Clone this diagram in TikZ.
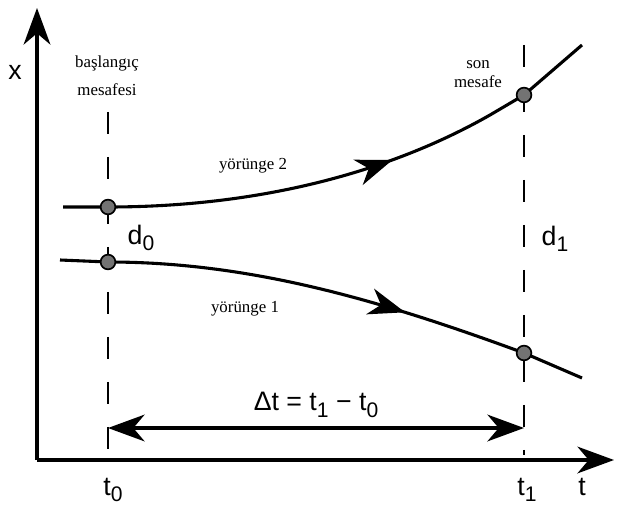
\documentclass[tikz,border=0pt]{standalone}
\usepackage{fontspec}
\setmainfont{Liberation Sans}
\newfontfamily\trfont{Liberation Serif}
\usetikzlibrary{arrows.meta,decorations.markings}
\newcommand\lowsub[1]{\raisebox{-.45ex}{\fontsize{15}{15}\selectfont#1}}
\begin{document}
\begin{tikzpicture}[x=.025cm,y=-.025cm,
 axis/.style={line width=2.2pt,-{Stealth[length=26pt,width=19pt,inset=8pt]}},
 traj/.style={line width=2.2pt,line join=round},
 guide/.style={line width=1.4pt,dash pattern=on 16pt off 16pt},
 mpoint/.style={circle,draw,line width=1.2pt,fill=black!55,inner sep=0pt,minimum size=10.5pt},
 lbl/.style={font=\fontsize{19}{19}\selectfont},
 tr/.style={font=\trfont\fontsize{12}{20}\selectfont,align=center},
 mid/.style={postaction={decorate},decoration={markings,mark=at position #1 with {\arrow{Stealth[length=26pt,width=19pt,inset=8pt]}}}}]
\useasboundingbox(0,0)rectangle(622,505);
\coordinate(o)at(37,460);\coordinate(ytip)at(37,8);\coordinate(ttip)at(614,460);
\draw[axis](o)--(ytip);\draw[axis](o)--(ttip);
\coordinate(g0top)at(108,112);\coordinate(g0bot)at(108,460);\coordinate(g1top)at(524,45);\coordinate(g1bot)at(524,455);
\draw[guide](g0top)--(g0bot);\draw[guide](g1top)--(g1bot);
\coordinate(a0)at(108,207);\coordinate(b0)at(108,262);\coordinate(a1)at(524,95);\coordinate(b1)at(524,353);
\coordinate(s2)at(63,207);\coordinate(k2)at(490,115);\coordinate(e2)at(582,45);
\coordinate(s1)at(60,260);\coordinate(e1)at(582,378);
\draw[traj,mid=.6](s2)--(a0)..controls(260,207)and(390,172)..(k2)--(a1)--(e2);
\draw[traj,mid=.65](s1)--(b0)..controls(250,262)and(380,300)..(b1)--(e1);
\node[mpoint](p0)at(a0){};\node[mpoint](q0)at(b0){};\node[mpoint](p1)at(a1){};\node[mpoint](q1)at(b1){};
\coordinate(dl)at(108,428);\coordinate(dr)at(524,428);
\draw[line width=2.2pt,{Stealth[length=26pt,width=19pt,inset=8pt]}-{Stealth[length=26pt,width=19pt,inset=8pt]}](dl)--(dr);
\node[lbl](xl)at(15,72){x};
\node[tr](start)at(107,76){başlangıç\\mesafesi};
\node[tr,font=\trfont\fontsize{12}{13.5}\selectfont](finish)at(478,74){son\\mesafe};
\node[tr](y2)at(253,166){yörünge 2};\node[tr](y1)at(245,309){yörünge 1};
\node[lbl](d0)at(141,238){d\lowsub{0}};\node[lbl](d1)at(555,239){d\lowsub{1}};
\node[lbl](dt)at(316,405){Δt = t\lowsub{1} − t\lowsub{0}};
\node[lbl](t0)at(113,490){t\lowsub{0}};\node[lbl](t1)at(527,490){t\lowsub{1}};\node[lbl](tl)at(582,487){t};
\end{tikzpicture}
\end{document}
